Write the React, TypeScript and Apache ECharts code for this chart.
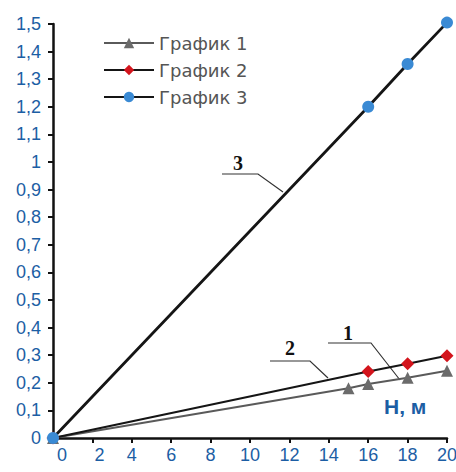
import React, { useEffect, useRef } from "react";
import * as echarts from "echarts";

const xTicks = [0, 2, 4, 6, 8, 10, 12, 14, 16, 18, 20];
const series1X = [0, 15, 16, 18, 20];
const series1Y = [0, 0.18, 0.196, 0.218, 0.244];
const series2X = [0, 16, 18, 20];
const series2Y = [0, 0.241, 0.269, 0.298];
const series3X = [0, 16, 18, 20];
const series3Y = [0, 1.2, 1.355, 1.505];
const seriesNames = ["График 1", "График 2", "График 3"];

const pair = (xs: number[], ys: number[]) => xs.map((x, i) => [x, ys[i]]);

const BLUE = "#1c5ea4";
const FONT = "'Liberation Sans', Arial, sans-serif";

export default function App() {
  const ref = useRef<HTMLDivElement>(null);
  useEffect(() => {
    if (!ref.current) return;
    const chart = echarts.init(ref.current, null, { renderer: "svg" });
    const lblStyle = { color: BLUE, fontSize: 18, fontFamily: FONT };
    chart.setOption({
      animation: false,
      backgroundColor: "#ffffff",
      grid: { left: 53, top: 24, right: 9, bottom: 34, outerBoundsMode: "none", containLabel: false },
      legend: {
        orient: "vertical",
        left: 98,
        top: 29,
        itemWidth: 50,
        itemHeight: 13,
        itemGap: 9,
        textStyle: { color: "#555555", fontSize: 18, fontFamily: "'DejaVu Sans', sans-serif" },
        data: seriesNames,
      },
      xAxis: {
        type: "value",
        min: 0,
        max: 20,
        interval: 2,
        axisLine: { lineStyle: { color: "#111", width: 2.5 } },
        axisTick: { show: true, length: 5, lineStyle: { color: "#111", width: 2 } },
        splitLine: { show: false },
        axisLabel: {
          ...lblStyle,
          margin: 8,
          formatter: (v: number) => {
            if (!xTicks.includes(v)) return "";
            if (v === 0) return "{s|0}";
            if (v === 2) return "{t|2}";
            return String(v);
          },
          rich: {
            s: { ...lblStyle, padding: [0, 0, 0, 18] },
            t: { ...lblStyle, padding: [0, 0, 0, 14] },
          },
        },
      },
      yAxis: {
        type: "value",
        min: 0,
        max: 1.5,
        interval: 0.1,
        axisLine: { show: true, lineStyle: { color: "#111", width: 2.5 } },
        axisTick: { show: true, length: 5, lineStyle: { color: "#111", width: 2 } },
        splitLine: { show: false },
        axisLabel: {
          ...lblStyle,
          margin: 12,
          formatter: (v: number) => {
            const r = Math.round(v * 10) / 10;
            return r === 0 ? "0" : r === 1 ? "1" : r.toFixed(1).replace(".", ",");
          },
        },
      },
      series: [
        {
          name: seriesNames[0],
          type: "line",
          clip: false,
          data: pair(series1X, series1Y),
          symbol: "triangle",
          symbolSize: 12,
          itemStyle: { color: "#6b6b6b" },
          lineStyle: { color: "#5a5a5a", width: 2 },
          z: 2,
        },
        {
          name: seriesNames[1],
          type: "line",
          clip: false,
          data: pair(series2X, series2Y),
          symbol: "diamond",
          symbolSize: 13,
          itemStyle: { color: "#d3141c" },
          lineStyle: { color: "#151515", width: 2.2 },
          z: 3,
        },
        {
          name: seriesNames[2],
          type: "line",
          clip: false,
          data: pair(series3X, series3Y),
          symbol: "circle",
          symbolSize: 12,
          itemStyle: { color: "#3a8ad4" },
          lineStyle: { color: "#151515", width: 2.8 },
          z: 4,
        },
      ],
      graphic: [
        {
          type: "text",
          left: 384,
          top: 396,
          style: { text: "H, м", fill: BLUE, font: `bold 21px ${FONT}` },
        },
        { type: "text", x: 238, y: 163, style: { text: "3", fill: "#111", font: "bold 20px 'Liberation Serif', serif", align: "center", verticalAlign: "middle" } },
        { type: "polyline", shape: { points: [[222, 174], [258, 174], [283, 192]] }, style: { stroke: "#333", lineWidth: 1.2, fill: null } },
        { type: "text", x: 290, y: 348, style: { text: "2", fill: "#111", font: "bold 20px 'Liberation Serif', serif", align: "center", verticalAlign: "middle" } },
        { type: "polyline", shape: { points: [[270, 361], [310, 361], [328, 378]] }, style: { stroke: "#333", lineWidth: 1.2, fill: null } },
        { type: "text", x: 348, y: 333, style: { text: "1", fill: "#111", font: "bold 20px 'Liberation Serif', serif", align: "center", verticalAlign: "middle" } },
        { type: "polyline", shape: { points: [[328, 343], [371, 343], [400, 380]] }, style: { stroke: "#333", lineWidth: 1.2, fill: null } },
      ],
    });
    return () => chart.dispose();
  }, []);
  return <div ref={ref} style={{ width: 456, height: 472, position: "absolute", left: 0, top: 0 }} />;
}
